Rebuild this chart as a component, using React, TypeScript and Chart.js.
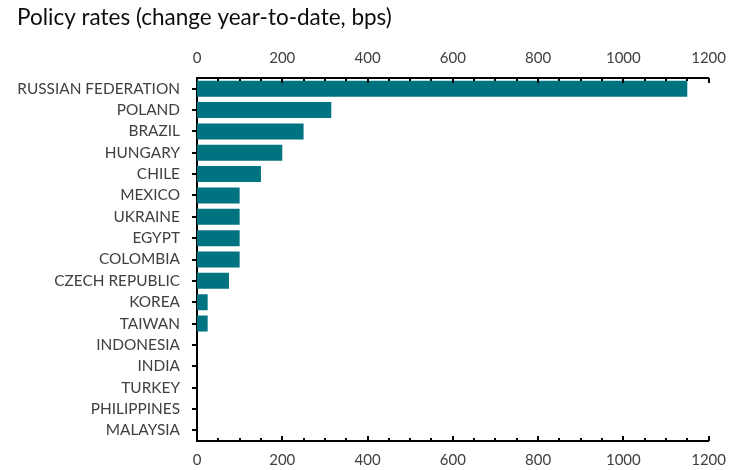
import React, { useEffect, useRef } from "react";
import { Chart, registerables } from "chart.js";

Chart.register(...registerables);

const titleText = "Policy rates (change year-to-date, bps)";
const categories = [
  "RUSSIAN FEDERATION",
  "POLAND",
  "BRAZIL",
  "HUNGARY",
  "CHILE",
  "MEXICO",
  "UKRAINE",
  "EGYPT",
  "COLOMBIA",
  "CZECH REPUBLIC",
  "KOREA",
  "TAIWAN",
  "INDONESIA",
  "INDIA",
  "TURKEY",
  "PHILIPPINES",
  "MALAYSIA",
];
const changeBps = [1150, 315, 250, 200, 150, 100, 100, 100, 100, 75, 25, 25, 0, 0, 0, 0, 0];
const axisMin = 0;
const axisMax = 1200;
const majorStep = 200;
const minorStep = 50;

const FONT = "Lato, 'Open Sans', sans-serif";
const TITLE_SIZE = 22.5;
const TITLE_PAD_TOP = 4;
const PLOT_TOP = 78;
const PLOT_BOTTOM = 441;
const PLOT_LEFT = 197;
const CANVAS_H = 470;

const inwardTicks = {
  id: "inwardTicks",
  afterDraw(chart: any) {
    const ctx = chart.ctx;
    const area = chart.chartArea;
    const sx = chart.scales.x;
    ctx.save();
    ctx.strokeStyle = "#000";
    ctx.lineWidth = 2;
    for (let v = axisMin + minorStep; v <= axisMax; v += minorStep) {
      const px = Math.round(sx.getPixelForValue(v));
      const len = v % majorStep === 0 ? 5 : 3;
      ctx.beginPath();
      ctx.moveTo(px, area.bottom);
      ctx.lineTo(px, area.bottom - len);
      ctx.moveTo(px, area.top);
      ctx.lineTo(px, area.top + len);
      ctx.stroke();
    }
    ctx.restore();
  },
};

const xTicks = {
  stepSize: majorStep,
  color: "#404040",
  font: { family: FONT, size: 15 },
  maxRotation: 0,
  callback: (v: any) => String(v),
};

export default function App() {
  const ref = useRef<HTMLCanvasElement>(null);
  useEffect(() => {
    document.body.style.margin = "0";
    const titleH = TITLE_PAD_TOP + TITLE_SIZE * 1.2;
    const chart = new Chart(ref.current as HTMLCanvasElement, {
      type: "bar",
      data: {
        labels: categories,
        datasets: [
          {
            data: changeBps,
            backgroundColor: "#007380",
            borderWidth: 0,
            barPercentage: 0.75,
            categoryPercentage: 1,
            xAxisID: "x",
          },
        ],
      },
      options: {
        indexAxis: "y",
        animation: false,
        responsive: true,
        maintainAspectRatio: false,
        layout: { padding: { left: 17, right: 25, top: 0, bottom: 0 } },
        plugins: {
          legend: { display: false },
          tooltip: { enabled: false },
          title: {
            display: true,
            text: titleText,
            align: "start",
            color: "#0d0d0d",
            font: { family: FONT, size: TITLE_SIZE, weight: "normal" },
            padding: { top: TITLE_PAD_TOP, bottom: 0 },
          },
        },
        scales: {
          x: {
            type: "linear",
            position: "bottom",
            min: axisMin,
            max: axisMax,
            ticks: { ...xTicks, padding: 10 },
            grid: { display: false, drawTicks: false },
            border: { display: true, color: "#000", width: 2 },
            afterFit: (s: any) => {
              s.height = CANVAS_H - PLOT_BOTTOM;
            },
          },
          x2: {
            type: "linear",
            position: "top",
            min: axisMin,
            max: axisMax,
            ticks: { ...xTicks, padding: 11 },
            grid: { display: false, drawTicks: false },
            border: { display: true, color: "#000", width: 2 },
            afterFit: (s: any) => {
              s.height = PLOT_TOP - titleH;
            },
          },
          y: {
            type: "category",
            position: "left",
            ticks: {
              color: "#404040",
              font: { family: FONT, size: 15.4 },
              padding: 12,
              autoSkip: false,
            },
            grid: {
              display: true,
              drawOnChartArea: false,
              drawTicks: true,
              tickLength: 5,
              offset: false,
              color: "#000",
              lineWidth: 2,
            },
            border: { display: true, color: "#000", width: 2 },
            afterFit: (s: any) => {
              s.width = PLOT_LEFT - 17;
            },
          },
        },
      },
      plugins: [inwardTicks],
    });
    return () => chart.destroy();
  }, []);
  return (
    <div style={{ position: "relative", width: 737, height: 470 }}>
      <canvas ref={ref} />
    </div>
  );
}
